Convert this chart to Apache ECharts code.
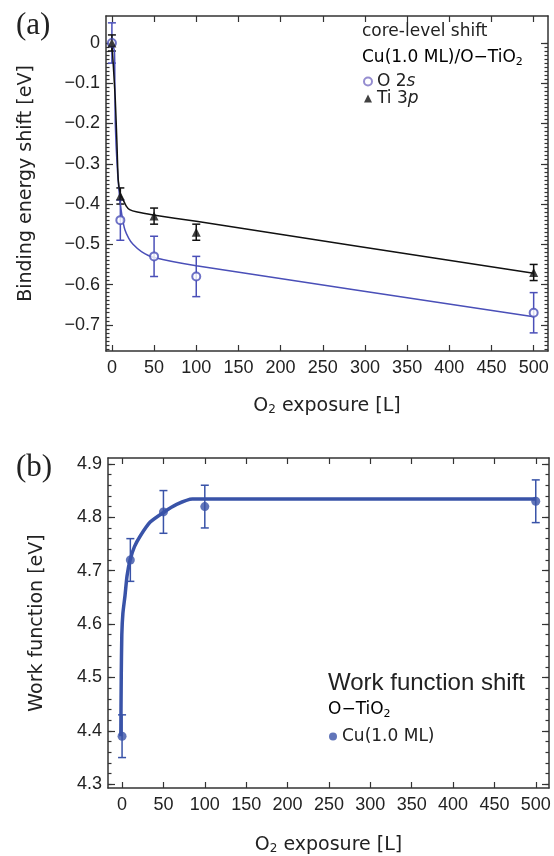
<!DOCTYPE html>
<html><head><meta charset="utf-8">
<script src="https://cdn.jsdelivr.net/npm/echarts@6/dist/echarts.min.js"></script>
<style>html,body{margin:0;padding:0;background:#fff}#c{width:554px;height:856px}</style>
</head><body><div id="c"></div>
<script>
// ---------- data ----------
const exposure = [0, 10, 50, 100, 500];
const o2sShift = [0, -0.44, -0.53, -0.58, -0.67];
const o2sErr = [0.05, 0.05, 0.05, 0.05, 0.05];
const ti3pShift = [0, -0.38, -0.43, -0.47, -0.57];
const ti3pErr = [0.02, 0.02, 0.02, 0.02, 0.02];

const o2sFitX = [0, 3, 3.5, 4, 6.3, 9.5, 12, 15.4, 20, 25, 35, 49, 100, 500];
const o2sFitY = [0, -0.02, -0.1, -0.2, -0.307, -0.39, -0.43, -0.464, -0.485, -0.5, -0.518, -0.532, -0.553, -0.68];
const ti3pFitX = [0, 1.5, 4, 6, 7.5, 10, 13.4, 17, 21, 30, 49, 100, 500];
const ti3pFitY = [0, -0.05, -0.14, -0.25, -0.34, -0.375, -0.39, -0.405, -0.414, -0.42, -0.427, -0.443, -0.572];

const wfExposure = [0, 10, 50, 100, 500];
const workFunction = [4.39, 4.72, 4.81, 4.82, 4.83];
const wfErr = [0.04, 0.04, 0.04, 0.04, 0.04];
const wfFitX = [-1.5, -1, -0.3, 1, 3.6, 6, 9.7, 15, 22, 34, 50, 66, 85, 500];
const wfFitY = [4.39, 4.5, 4.58, 4.62, 4.654, 4.69, 4.72, 4.745, 4.765, 4.791, 4.809, 4.824, 4.834, 4.834];

const xTicks = [0, 50, 100, 150, 200, 250, 300, 350, 400, 450, 500];
const yTicksA = [0, -0.1, -0.2, -0.3, -0.4, -0.5, -0.6, -0.7];
const yTicksB = [4.3, 4.4, 4.5, 4.6, 4.7, 4.8, 4.9];

// ---------- layout / style ----------
const BLUE_A = '#4a4fb8', BLACK = '#111', BLUE_B = '#3953a8', AXIS = '#333', TXT = '#222';
const FONT = '"Liberation Sans", Arial, sans-serif';
const FONT2 = '"DejaVu Sans", sans-serif';
const minorA = []; for (let k = 0; k <= 76; k++) minorA.push(+(-k * 0.01).toFixed(2));
const minorB = []; for (let k = 0; k <= 30; k++) minorB.push(+(4.3 + k * 0.02).toFixed(2));

const pairs = (xs, ys) => xs.map((x, i) => [x, ys[i]]);
const errData = (xs, ys, es) => xs.map((x, i) => [x, ys[i] - es[i], ys[i] + es[i]]);
function errRender(color, lw, w) {
  return function (params, api) {
    const x = api.value(0), lo = api.value(1), hi = api.value(2);
    const a = api.coord([x, hi]), b = api.coord([x, lo]);
    const style = { stroke: color, lineWidth: lw, fill: null };
    return { type: 'group', children: [
      { type: 'line', shape: { x1: a[0], y1: a[1], x2: b[0], y2: b[1] }, style },
      { type: 'line', shape: { x1: a[0] - w, y1: a[1], x2: a[0] + w, y2: a[1] }, style },
      { type: 'line', shape: { x1: b[0] - w, y1: b[1], x2: b[0] + w, y2: b[1] }, style }
    ] };
  };
}
const minus = v => String(v).replace('-', '\u2212');
const axLine = { show: true, onZero: false, lineStyle: { color: AXIS, width: 1.5 } };
const nameRich = { n: { fontSize: 19, fontFamily: FONT2, color: TXT }, s: { fontSize: 12, fontFamily: FONT2, color: TXT, verticalAlign: 'bottom', lineHeight: 12 } };
function xAx(grid, min, max, pos, showLabel, name, gap) {
  return {
    type: 'value', gridIndex: grid, min, max, position: pos,
    axisLine: axLine, splitLine: { show: false },
    axisTick: { show: true, inside: true, length: 6, customValues: xTicks, lineStyle: { color: AXIS, width: 1.2 } },
    axisLabel: { show: showLabel, customValues: xTicks, margin: 8, fontSize: 18, fontFamily: FONT, color: TXT },
    name: name || '', nameLocation: 'middle', nameGap: gap || 0,
    nameTextStyle: { fontSize: 19, fontFamily: FONT2, color: TXT, rich: nameRich }
  };
}
function yAx(grid, min, max, pos, ticks, len, labels, fmt, name, gap) {
  return {
    type: 'value', gridIndex: grid, min, max, position: pos,
    axisLine: labels !== null ? axLine : { show: false, onZero: false },
    splitLine: { show: false },
    axisTick: { show: true, inside: true, length: len, customValues: ticks, lineStyle: { color: AXIS, width: 1.2 } },
    axisLabel: { show: !!labels, customValues: ticks, margin: 6, fontSize: 18, fontFamily: FONT, color: TXT, formatter: fmt },
    name: name || '', nameLocation: 'middle', nameGap: gap || 0, nameRotate: 90,
    nameTextStyle: { fontSize: 19, fontFamily: FONT2, color: TXT }
  };
}
const fmtA = v => minus(v);
const fmtB = v => v.toFixed(1);

const chart = echarts.init(document.getElementById('c'), null, { renderer: 'canvas' });
const subRich = { n: { fontSize: 17, fontFamily: FONT2, color: TXT, lineHeight: 20 }, sub: { fontSize: 11, fontFamily: FONT2, color: TXT, lineHeight: 10, verticalAlign: 'bottom' } };
chart.setOption({
  animation: false,
  backgroundColor: '#fff',
  grid: [
    { left: 106, top: 16, width: 442, height: 335 },
    { left: 108, top: 458, width: 441, height: 334 }
  ],
  xAxis: [
    xAx(0, -7, 517, 'bottom', true, '{n|O}{s|2}{n| exposure [L]}', 46),
    xAx(0, -7, 517, 'top', false),
    xAx(1, -17, 516, 'bottom', true, '{n|O}{s|2}{n| exposure [L]}', 48),
    xAx(1, -17, 516, 'top', false)
  ],
  yAxis: [
    yAx(0, -0.765, 0.067, 'left', yTicksA, 7, true, fmtA, 'Binding energy shift [eV]', 70),
    yAx(0, -0.765, 0.067, 'left', minorA, 3.5, null),
    yAx(0, -0.765, 0.067, 'right', yTicksA, 7, false),
    yAx(0, -0.765, 0.067, 'right', minorA, 3.5, null),
    yAx(1, 4.293, 4.911, 'left', yTicksB, 7, true, fmtB, 'Work function [eV]', 61),
    yAx(1, 4.293, 4.911, 'left', minorB, 3.5, null),
    yAx(1, 4.293, 4.911, 'right', yTicksB, 7, false),
    yAx(1, 4.293, 4.911, 'right', minorB, 3.5, null)
  ],
  legend: [
    { left: 363, top: 73, padding: 0, orient: 'vertical', itemGap: 0, itemWidth: 8, itemHeight: 8,
      data: [{ name: 'O 2s', icon: 'emptyCircle', itemStyle: { color: '#7a70c4', borderColor: '#7a70c4', borderWidth: 1.2 } },
             { name: 'Ti 3p', icon: 'triangle', itemStyle: { color: BLACK } }],
      formatter: n => n === 'O 2s' ? '{n|O 2}{i|s}' : '{n|Ti 3}{i|p}',
      textStyle: { lineHeight: 17, rich: { n: { fontSize: 17, fontFamily: FONT2, color: TXT, lineHeight: 17 }, i: { fontSize: 17, fontFamily: FONT2, fontStyle: 'italic', color: TXT, lineHeight: 17 } } } },
    { left: 329, top: 728, padding: 0, orient: 'vertical', itemWidth: 8, itemHeight: 8,
      data: [{ name: 'Cu(1.0 ML)', icon: 'circle', itemStyle: { color: BLUE_B } }],
      textStyle: { fontSize: 17, fontFamily: FONT2, color: TXT } }
  ],
  graphic: [
    { type: 'text', left: 16, top: 10, style: { text: '(a)', font: '31px "Liberation Serif", serif', fill: TXT } },
    { type: 'text', left: 16, top: 452, style: { text: '(b)', font: '31px "Liberation Serif", serif', fill: TXT } },
    { type: 'text', left: 362, top: 23, style: { text: 'core-level shift', font: '17px ' + FONT2, fill: TXT } },
    { type: 'text', left: 362, top: 49, style: { text: '{n|Cu(1.0 ML)/O\u2212TiO}{sub|2}', rich: subRich } },
    { type: 'text', left: 328, top: 671, style: { text: 'Work function shift', font: '24px ' + FONT, fill: TXT } },
    { type: 'text', left: 328, top: 701, style: { text: '{n|O\u2212TiO}{sub|2}', rich: subRich } }
  ],
  series: [
    { type: 'custom', name: 'O 2s err', xAxisIndex: 0, yAxisIndex: 0, renderItem: errRender(BLUE_A, 1.5, 4),
      data: errData(exposure, o2sShift, o2sErr), encode: { x: 0, y: [1, 2] }, z: 2 },
    { type: 'custom', name: 'Ti 3p err', xAxisIndex: 0, yAxisIndex: 0, renderItem: errRender(BLACK, 1.5, 4),
      data: errData(exposure, ti3pShift, ti3pErr), encode: { x: 0, y: [1, 2] }, z: 2 },
    { type: 'line', name: 'O 2s fit', xAxisIndex: 0, yAxisIndex: 0, data: pairs(o2sFitX, o2sFitY), showSymbol: false,
      smooth: 0.2, lineStyle: { color: BLUE_A, width: 1.5 }, z: 3 },
    { type: 'line', name: 'Ti 3p fit', xAxisIndex: 0, yAxisIndex: 0, data: pairs(ti3pFitX, ti3pFitY), showSymbol: false,
      smooth: 0.2, lineStyle: { color: BLACK, width: 1.5 }, z: 3 },
    { type: 'scatter', name: 'O 2s', xAxisIndex: 0, yAxisIndex: 0, data: pairs(exposure, o2sShift),
      symbol: 'emptyCircle', symbolSize: 8, itemStyle: { color: BLUE_A, borderWidth: 1.2 }, z: 4 },
    { type: 'scatter', name: 'Ti 3p', xAxisIndex: 0, yAxisIndex: 0, data: pairs(exposure, ti3pShift),
      symbol: 'triangle', symbolSize: 9, itemStyle: { color: BLACK }, z: 5 },

    { type: 'custom', name: 'wf err', xAxisIndex: 2, yAxisIndex: 4, renderItem: errRender(BLUE_B, 1.5, 4),
      data: errData(wfExposure, workFunction, wfErr), encode: { x: 0, y: [1, 2] }, z: 2 },
    { type: 'line', name: 'wf fit', xAxisIndex: 2, yAxisIndex: 4, data: pairs(wfFitX, wfFitY), showSymbol: false,
      smooth: 0.2, lineStyle: { color: BLUE_B, width: 3.5 }, z: 3 },
    { type: 'scatter', name: 'Cu(1.0 ML)', xAxisIndex: 2, yAxisIndex: 4, data: pairs(wfExposure, workFunction),
      symbol: 'circle', symbolSize: 9, itemStyle: { color: BLUE_B }, z: 4 }
  ]
});
</script></body></html>
